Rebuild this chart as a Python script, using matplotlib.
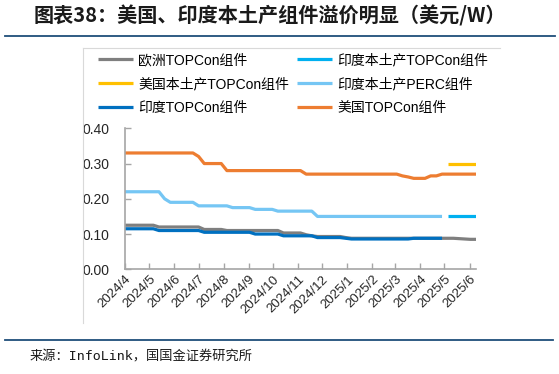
import matplotlib
matplotlib.use('Agg')
import matplotlib.pyplot as plt
import pandas as pd
from matplotlib.lines import Line2D

plt.rcParams['font.family'] = ['Liberation Sans', 'Noto Sans CJK SC']

# weekly price points, 2024/4 .. 2025/6 (USD/W)
week_dates = pd.date_range('2024-04-03', periods=63, freq='7D')
month_ticks = pd.date_range('2024-04-03', periods=15, freq=pd.DateOffset(months=1))
tick_labels = ['2024/4', '2024/5', '2024/6', '2024/7', '2024/8', '2024/9', '2024/10',
               '2024/11', '2024/12', '2025/1', '2025/2', '2025/3', '2025/4', '2025/5', '2025/6']

series_names = ['欧洲TOPCon组件', '印度本土产TOPCon组件', '美国本土产TOPCon组件',
                '印度本土产PERC组件', '印度TOPCon组件', '美国TOPCon组件']

europe_topcon = [0.125, 0.125, 0.125, 0.125, 0.125, 0.125,
                 0.12, 0.12, 0.12, 0.12, 0.12, 0.12, 0.12, 0.12,
                 0.113, 0.113, 0.113, 0.113,
                 0.11, 0.11, 0.11, 0.11, 0.11, 0.11, 0.11, 0.11, 0.11, 0.11,
                 0.103, 0.103, 0.103, 0.103, 0.098, 0.095,
                 0.093, 0.093, 0.093, 0.093, 0.093, 0.09,
                 0.088, 0.088, 0.088, 0.088, 0.088, 0.088, 0.088, 0.088, 0.088, 0.088,
                 0.088, 0.088, 0.088, 0.088, 0.088, 0.088, 0.088, 0.088, 0.088,
                 0.087, 0.086, 0.085, 0.085]
india_local_topcon = [0.15, 0.15, 0.15, 0.15, 0.15, 0.15]
us_local_topcon = [0.30, 0.30, 0.30, 0.30, 0.30, 0.30]
india_local_perc = [0.22, 0.22, 0.22, 0.22, 0.22, 0.22, 0.22, 0.20,
                    0.19, 0.19, 0.19, 0.19, 0.19,
                    0.18, 0.18, 0.18, 0.18, 0.18, 0.18,
                    0.175, 0.175, 0.175, 0.175, 0.17, 0.17, 0.17, 0.17,
                    0.165, 0.165, 0.165, 0.165, 0.165, 0.165, 0.165,
                    0.15, 0.15, 0.15, 0.15, 0.15, 0.15, 0.15, 0.15, 0.15, 0.15, 0.15, 0.15,
                    0.15, 0.15, 0.15, 0.15, 0.15, 0.15, 0.15, 0.15, 0.15, 0.15, 0.15]
india_topcon = [0.115, 0.115, 0.115, 0.115, 0.115, 0.115,
                0.11, 0.11, 0.11, 0.11, 0.11, 0.11, 0.11, 0.11,
                0.105, 0.105, 0.105, 0.105, 0.105, 0.105, 0.105, 0.105, 0.105,
                0.10, 0.10, 0.10, 0.10, 0.10,
                0.095, 0.095, 0.095, 0.095, 0.095, 0.095,
                0.09, 0.09, 0.09, 0.09, 0.09, 0.088,
                0.086, 0.086, 0.086, 0.086, 0.086, 0.086, 0.086, 0.086, 0.086, 0.086, 0.086,
                0.088, 0.088, 0.088, 0.088, 0.088, 0.088]
us_topcon = [0.33, 0.33, 0.33, 0.33, 0.33, 0.33, 0.33, 0.33, 0.33, 0.33, 0.33, 0.33, 0.33,
             0.32, 0.30, 0.30, 0.30, 0.30,
             0.28, 0.28, 0.28, 0.28, 0.28, 0.28, 0.28, 0.28, 0.28, 0.28, 0.28, 0.28, 0.28, 0.28,
             0.27, 0.27, 0.27, 0.27, 0.27, 0.27, 0.27, 0.27, 0.27, 0.27, 0.27, 0.27, 0.27,
             0.27, 0.27, 0.27, 0.27,
             0.265, 0.262, 0.258, 0.258, 0.258, 0.265, 0.265,
             0.27, 0.27, 0.27, 0.27, 0.27, 0.27, 0.27]

colors = ['#7F7F7F', '#00B0F0', '#FFC000', '#75C6F4', '#0070C0', '#ED7D31']

W, H = 559, 374
fig = plt.figure(figsize=(W / 100, H / 100), dpi=100)
ax = fig.add_axes([125 / W, 1 - 269.3 / H, (476 - 125) / W, (269.3 - 128.3) / H])

lw = 2.3
lines = []
lines += ax.plot(week_dates, europe_topcon, color=colors[0], lw=lw, solid_capstyle='butt')
lines += ax.plot(week_dates[57:], india_local_topcon, color=colors[1], lw=lw, solid_capstyle='butt')
lines += ax.plot(week_dates[57:], us_local_topcon, color=colors[2], lw=lw, solid_capstyle='butt')
lines += ax.plot(week_dates[:57], india_local_perc, color=colors[3], lw=lw, solid_capstyle='butt')
lines += ax.plot(week_dates[:57], india_topcon, color=colors[4], lw=lw, solid_capstyle='butt')
lines += ax.plot(week_dates, us_topcon, color=colors[5], lw=lw, solid_capstyle='butt')

ax.set_xlim(week_dates[0], week_dates[-1])
ax.set_ylim(0, 0.40)
ax.set_yticks([0, 0.1, 0.2, 0.3, 0.4])
ax.set_yticklabels(['%.2f' % v for v in [0, 0.1, 0.2, 0.3, 0.4]], fontsize=10, color='#262626')
ax.set_xticks(month_ticks)
ax.set_xticklabels(tick_labels, rotation=45, ha='right', rotation_mode='anchor',
                   fontsize=9.5, color='#262626')
ax.tick_params(axis='y', direction='in', length=4, width=1, color='#A6A6A6', pad=11)
ax.tick_params(axis='x', direction='in', length=4, width=1, color='#A6A6A6', pad=3)
for s in ['top', 'right']:
    ax.spines[s].set_visible(False)
for s in ['left', 'bottom']:
    ax.spines[s].set_color('#A6A6A6')
    ax.spines[s].set_linewidth(1.2)

# legend in 2 columns, row-major order like the source
order = [0, 2, 4, 1, 3, 5]
fig.legend([lines[i] for i in order], [series_names[i] for i in order],
           ncol=2, loc='upper left', bbox_to_anchor=(98 / W, 1 - 53 / H),
           frameon=False, fontsize=10, handlelength=2.5, handletextpad=0.4,
           columnspacing=0.55, labelspacing=0.72, borderaxespad=0, borderpad=0)

# title, rules and source
fig.text(34 / W, 1 - 16 / H, '图表38：美国、印度本土产组件溢价明显（美元/W）',
         fontsize=14.5, fontweight='bold', va='center', ha='left',
         family=['Noto Sans CJK SC'], color='#1A1A1A')
fig.add_artist(Line2D([5 / W, 555 / W], [1 - 36 / H] * 2, color='#1F4E79', lw=1.3))
fig.add_artist(Line2D([5 / W, 553 / W], [1 - 340 / H] * 2, color='#1F4E79', lw=1.3))
fig.add_artist(Line2D([83 / W, 500 / W], [1 - 48 / H] * 2, color='#D9D9D9', lw=0.8))
fig.add_artist(Line2D([83 / W, 83 / W], [1 - 48 / H, 1 - 323 / H], color='#D9D9D9', lw=0.8))
fig.text(30 / W, 1 - 357 / H, '来源：InfoLink，国国金证券研究所', fontsize=9.5,
         va='center', ha='left', family=['DejaVu Sans Mono', 'Noto Sans CJK SC'], color='#1A1A1A')

fig.savefig('out.png', dpi=100)
